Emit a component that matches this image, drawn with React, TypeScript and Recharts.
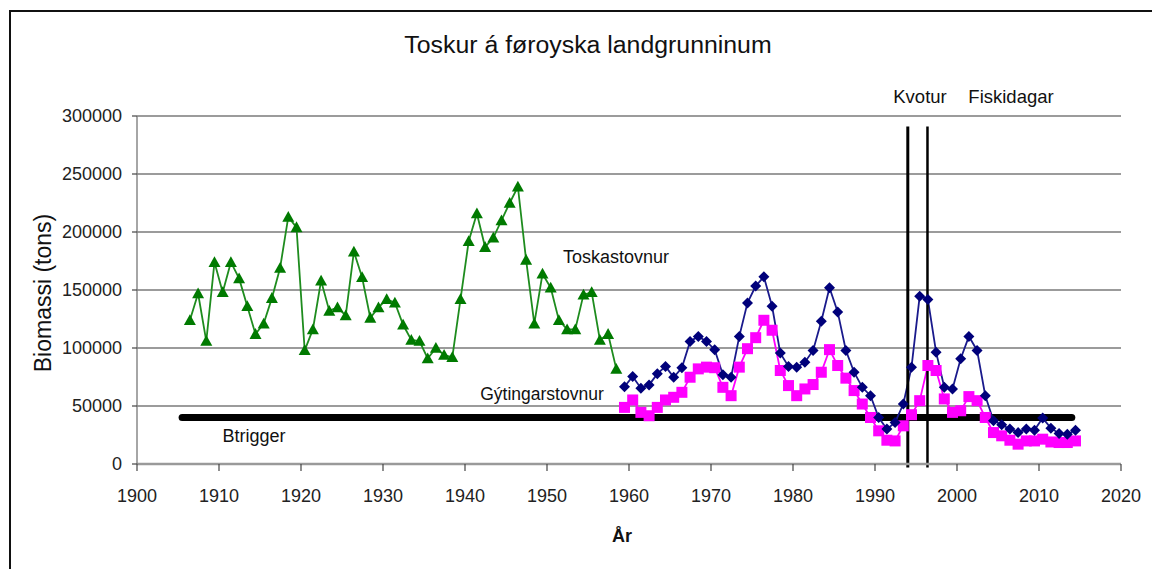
import React from 'react';
import { LineChart, Line, XAxis, YAxis, CartesianGrid, ReferenceLine } from 'recharts';

// ---- Data ----
const TOSK_START_YEAR = 1906;
const toskastovnur = [
  124000, 147000, 106000, 174000, 148000, 174000, 160000, 136000, 112000, 121000,
  143000, 169000, 213000, 204000, 98000, 116000, 158000, 132000, 135000, 128000,
  183000, 161000, 126000, 135000, 142000, 139000, 120000, 107000, 106000, 91000,
  100000, 94000, 92000, 142000, 192000, 216000, 187000, 195000, 210000, 225000,
  239000, 176000, 121000, 164000, 152000, 124000, 116000, 116000, 146000, 148000,
  107000, 112000, 82000,
];

const MODERN_START_YEAR = 1959;
const toskastovnurModern = [
  66700, 75400, 65300, 68200, 77700, 84100, 74800, 82900, 105700, 110000,
  105700, 98500, 76900, 74800, 110000, 138900, 153400, 161400, 136000, 95600,
  84100, 83400, 87800, 97900, 123000, 152000, 131100, 97900, 79100, 66100,
  58900, 40100, 30100, 35800, 51700, 83400, 144700, 141800, 96400, 66100,
  64700, 90700, 110000, 97900, 58900, 37300, 33800, 30100, 27100, 30100,
  29200, 39600, 30900, 26300, 25700, 29200,
];
const gytingarstovnur = [
  48800, 55200, 44500, 41600, 48800, 55200, 57500, 61800, 74800, 82000,
  83500, 83000, 66100, 58900, 83500, 99400, 108900, 123900, 115300, 80600,
  67600, 58900, 64700, 68500, 79100, 98600, 84900, 74000, 63300, 51700,
  40100, 28600, 20500, 19900, 32900, 42500, 54600, 84900, 80600, 56100,
  44500, 45900, 58100, 54600, 40100, 27100, 24300, 20500, 17100, 19900,
  19900, 21400, 19000, 18500, 18500, 19900,
];

// points sit at mid-year on the year axis
const MID_YEAR = 0.45;

const BTRIGGER = 40000;
const BTRIGGER_FROM = 1905.5;
const BTRIGGER_TO = 2014;
const KVOTUR_YEAR = 1994;
const FISKIDAGAR_YEAR = 1996.4;
const EVENT_LINE_TOP = 291000;

const xTicks = [1900, 1910, 1920, 1930, 1940, 1950, 1960, 1970, 1980, 1990, 2000, 2010, 2020];
const yTicks = [0, 50000, 100000, 150000, 200000, 250000, 300000];

const toSeries = (start: number, vals: number[]) =>
  vals.map((v, i) => ({ x: start + i + MID_YEAR, v }));

const greenData = toSeries(TOSK_START_YEAR, toskastovnur);
const blueData = toSeries(MODERN_START_YEAR, toskastovnurModern);
const pinkData = toSeries(MODERN_START_YEAR, gytingarstovnur);
const btriggerData = [
  { x: BTRIGGER_FROM, v: BTRIGGER },
  { x: BTRIGGER_TO, v: BTRIGGER },
];

const FONT = "'Liberation Sans', Arial, Helvetica, sans-serif";

const Triangle = (p: any) => {
  const { cx, cy, index } = p;
  if (cx == null || cy == null) return <g key={`t${index}`} />;
  const s = 6;
  return (
    <polygon
      key={`t${index}`}
      points={`${cx},${cy - s} ${cx - s},${cy + s * 0.8} ${cx + s},${cy + s * 0.8}`}
      fill="#007a00"
    />
  );
};
const Diamond = (p: any) => {
  const { cx, cy, index } = p;
  if (cx == null || cy == null) return <g key={`d${index}`} />;
  const s = 5.5;
  return (
    <polygon
      key={`d${index}`}
      points={`${cx},${cy - s} ${cx + s},${cy} ${cx},${cy + s} ${cx - s},${cy}`}
      fill="#00007a"
    />
  );
};
const Square = (p: any) => {
  const { cx, cy, index } = p;
  if (cx == null || cy == null) return <g key={`s${index}`} />;
  const s = 5.5;
  return <rect key={`s${index}`} x={cx - s} y={cy - s} width={2 * s} height={2 * s} fill="#ff00ff" />;
};

const Txt = ({ x, y, size, children, bold, rotate, sx = 1 }: any) => (
  <div
    style={{
      position: 'absolute',
      left: x,
      top: y,
      transform: `translate(-50%, -50%) ${rotate ? 'rotate(-90deg)' : ''} scaleX(${sx})`,
      fontSize: size,
      fontFamily: FONT,
      fontWeight: bold ? 'bold' : 'normal',
      whiteSpace: 'nowrap',
      lineHeight: 1,
      color: '#111',
    }}
  >
    {children}
  </div>
);

export default function App() {
  return (
    <div style={{ position: 'absolute', left: 0, top: 0, width: 1152, height: 569, background: '#fff', overflow: 'hidden' }}>
      {/* chart frame */}
      <div style={{ position: 'absolute', left: 9, top: 10, width: 1160, height: 600, borderLeft: '2.5px solid #111', borderTop: '2.5px solid #111' }} />
      <LineChart
        width={1152}
        height={569}
        margin={{ top: 116, right: 31, left: 57, bottom: 65 }}
        style={{ position: 'absolute', left: 0, top: 0 }}
      >
        <CartesianGrid horizontal vertical={false} stroke="#7a7a7a" strokeWidth={1.5} />
        <XAxis
          type="number"
          dataKey="x"
          domain={[1900, 2020]}
          ticks={xTicks}
          allowDataOverflow
          height={40}
          tickSize={7}
          tickMargin={18}
          stroke="#9a9a9a"
          strokeWidth={2.5}
          tickLine={{ stroke: '#444', strokeWidth: 1.2 }}
          tick={{ fontSize: 18, fill: '#222', fontFamily: FONT }}
        />
        <YAxis
          type="number"
          domain={[0, 300000]}
          ticks={yTicks}
          width={80}
          tickSize={5}
          tickMargin={10}
          stroke="#808080"
          strokeWidth={1.4}
          tickLine={{ stroke: '#444', strokeWidth: 1.2 }}
          tick={{ fontSize: 18, fill: '#222', fontFamily: FONT }}
        />
        <Line
          data={btriggerData}
          dataKey="v"
          stroke="#000"
          strokeWidth={7}
          strokeLinecap="round"
          dot={false}
          activeDot={false}
          isAnimationActive={false}
        />
        <Line
          data={greenData}
          dataKey="v"
          stroke="#1e8c1e"
          strokeWidth={1.8}
          dot={Triangle}
          activeDot={false}
          isAnimationActive={false}
        />
        <Line
          data={pinkData}
          dataKey="v"
          stroke="#ff00ff"
          strokeWidth={1.8}
          dot={Square}
          activeDot={false}
          isAnimationActive={false}
        />
        <Line
          data={blueData}
          dataKey="v"
          stroke="#1a1a8c"
          strokeWidth={1.8}
          dot={Diamond}
          activeDot={false}
          isAnimationActive={false}
        />
        <ReferenceLine
          segment={[{ x: KVOTUR_YEAR, y: -3000 }, { x: KVOTUR_YEAR, y: EVENT_LINE_TOP }]}
          stroke="#000"
          strokeWidth={3}
          ifOverflow="visible"
        />
        <ReferenceLine
          segment={[{ x: FISKIDAGAR_YEAR, y: -3000 }, { x: FISKIDAGAR_YEAR, y: EVENT_LINE_TOP }]}
          stroke="#000"
          strokeWidth={2.5}
          ifOverflow="visible"
        />
      </LineChart>
      <Txt x={588} y={45} size={23} sx={1.08}>Toskur á føroyska landgrunninum</Txt>
      <Txt x={920} y={97} size={18.5}>Kvotur</Txt>
      <Txt x={1011} y={97} size={18.5}>Fiskidagar</Txt>
      <Txt x={616} y={257} size={18}>Toskastovnur</Txt>
      <Txt x={542} y={395} size={17.5}>Gýtingarstovnur</Txt>
      <Txt x={254} y={436} size={18}>Btrigger</Txt>
      <Txt x={43} y={293} size={23} rotate>Biomassi (tons)</Txt>
      <Txt x={622} y={536} size={18} bold>År</Txt>
    </div>
  );
}
